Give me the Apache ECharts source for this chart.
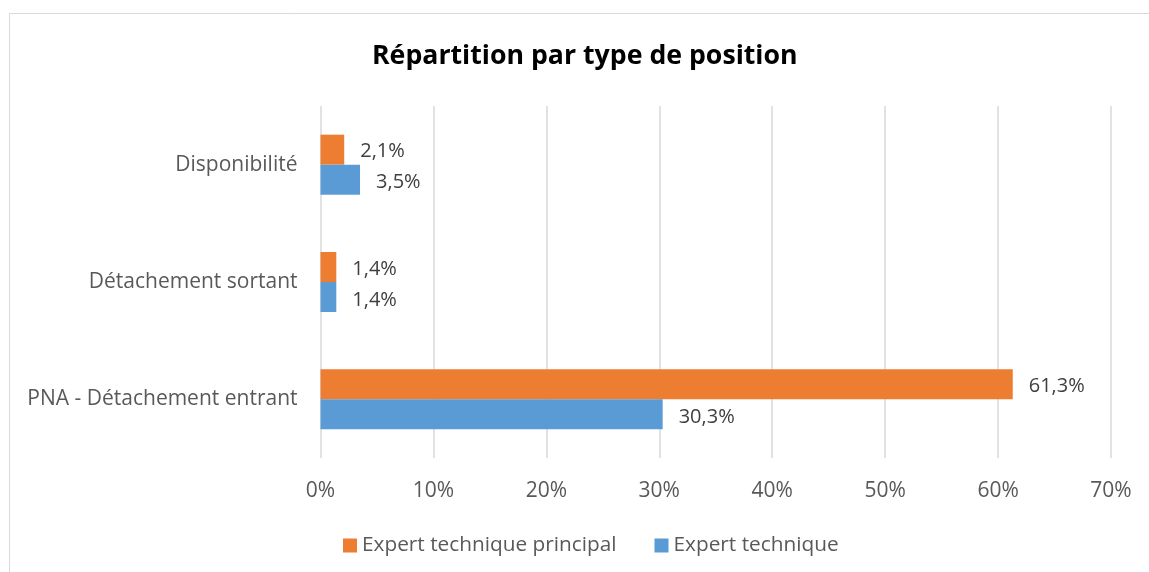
<!DOCTYPE html>
<html>
<head>
<meta charset="utf-8">
<script src="https://cdn.jsdelivr.net/npm/echarts@6/dist/echarts.min.js"></script>
<style>
  html, body { margin: 0; padding: 0; background: #fff; }
  #chart { width: 1149px; height: 572px; }
</style>
</head>
<body>
<div id="chart"></div>
<script>
const categories = ['PNA - Détachement entrant', 'Détachement sortant', 'Disponibilité']
const expertTechnique = [30.3, 1.4, 3.5]
const expertTechniquePrincipal = [61.3, 1.4, 2.1]
const xTicks = [0, 10, 20, 30, 40, 50, 60, 70]

const font = 'Open Sans'
const fmt = v => v.toFixed(1).replace('.', ',') + '%'

const chart = echarts.init(document.getElementById('chart'))
chart.setOption({
  animation: false,
  textStyle: { fontFamily: font },
  graphic: [{
    type: 'rect',
    shape: { x: 9.5, y: 13.5, width: 1300, height: 700 },
    style: { fill: 'none', stroke: '#d9d9d9', lineWidth: 1 },
    silent: true
  }],
  title: {
    text: 'Répartition par type de position',
    left: 367,
    top: 38,
    textStyle: { fontFamily: font, fontSize: 26.7, fontWeight: 'bold', color: '#000' }
  },
  legend: {
    data: ['Expert technique principal', 'Expert technique'],
    top: 530,
    left: 338,
    itemWidth: 14,
    itemHeight: 14,
    itemGap: 38,
    icon: 'rect',
    textStyle: { fontFamily: font, fontSize: 20.8, color: '#595959' }
  },
  grid: { left: 320.5, right: 38, top: 106, bottom: 114 },
  xAxis: {
    type: 'value',
    min: xTicks[0],
    max: xTicks[xTicks.length - 1],
    interval: 10,
    axisLine: { show: false },
    axisTick: { show: false },
    axisLabel: { formatter: '{value}%', fontSize: 21, color: '#595959', margin: 23 },
    splitLine: { lineStyle: { color: '#d9d9d9', width: 1.5 } }
  },
  yAxis: {
    type: 'category',
    data: categories,
    axisLine: { show: false },
    axisTick: { show: false },
    axisLabel: { fontSize: 21, color: '#595959', margin: 23 }
  },
  series: [
    {
      name: 'Expert technique principal',
      type: 'bar',
      data: expertTechniquePrincipal,
      barWidth: 30,
      barGap: '0%',
      itemStyle: { color: '#ed7d31' },
      label: { show: true, position: 'right', distance: 16, offset: [0, 2], fontSize: 20, color: '#404040', formatter: p => fmt(p.value) }
    },
    {
      name: 'Expert technique',
      type: 'bar',
      data: expertTechnique,
      barWidth: 30,
      barGap: '0%',
      itemStyle: { color: '#5b9bd5' },
      label: { show: true, position: 'right', distance: 16, offset: [0, 3], fontSize: 20, color: '#404040', formatter: p => fmt(p.value) }
    }
  ]
})
</script>
</body>
</html>
